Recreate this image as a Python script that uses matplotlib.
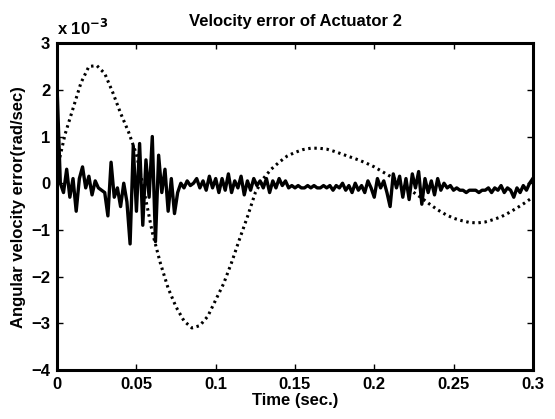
import numpy as np
import matplotlib
matplotlib.use('Agg')
import matplotlib.pyplot as plt

# velocity error, units of 1e-3 rad/sec
# solid: sampled every 0.002 s
err_solid = [
    2.0, 0.0, -0.2, 0.3, -0.3, 0.1, -0.6, 0.1, 0.35, -0.1,
    0.15, -0.25, 0.05, -0.1, -0.15, -0.2, -0.7, 0.45, -0.3, -0.1,
    -0.5, 0.0, -0.4, -1.3, 0.8, -0.6, 0.85, -0.9, 0.5, -0.3,
    1.0, -1.25, 0.6, -0.2, 0.3, -0.6, 0.1, -0.65, -0.2, 0.0,
    -0.1, 0.05, -0.05, 0.0, 0.1, -0.1, 0.05, -0.15, 0.15, -0.1,
    0.1, -0.2, 0.1, -0.15, 0.2, -0.2, 0.05, -0.1, 0.15, -0.25,
    0.05, -0.15, 0.1,
    -0.05, 0.05, -0.1, 0.1, -0.2, 0.05, -0.1, 0.1, -0.05, 0.05,
    -0.1, -0.05, -0.1, -0.05, -0.1, -0.1, -0.05, -0.1, -0.05, -0.1,
    -0.1, -0.05, -0.1, -0.05, -0.15, -0.05, -0.1, 0.0, -0.15, -0.05,
    -0.2, 0.0, -0.15, -0.05, -0.2, 0.05, -0.1, -0.3, 0.1, -0.1,
    0.05, -0.2, -0.5, 0.2, -0.1, 0.15, -0.3, 0.1, -0.35, 0.2,
    -0.1, 0.25, -0.45, 0.1, -0.2, 0.05, -0.25, 0.1, -0.15, 0.0,
    -0.1, -0.05, -0.15, -0.1, -0.15, -0.15, -0.2, -0.15, -0.15, -0.15,
    -0.2, -0.15, -0.15, -0.1, -0.2, -0.1, -0.15, -0.05, -0.2, -0.1,
    -0.15, -0.3, -0.1, -0.2, -0.05, -0.15, 0.0, 0.1,
]

# dotted: sampled every 0.005 s
err_dotted = [
    0.3, 1.05, 1.6, 2.15, 2.5, 2.52, 2.35, 1.95, 1.5, 1.1,
    0.62, -0.2, -1.05, -1.7, -2.25, -2.65, -2.95, -3.1, -3.05, -2.85,
    -2.5, -2.15, -1.7, -1.2, -0.72, -0.2, 0.1, 0.3, 0.45, 0.58,
    0.66, 0.72, 0.75, 0.75, 0.73, 0.68, 0.62, 0.56, 0.5, 0.43,
    0.35, 0.25, 0.15, 0.05, -0.08, -0.2, -0.32, -0.45, -0.57, -0.67,
    -0.75, -0.8, -0.84, -0.85, -0.83, -0.78, -0.72, -0.63, -0.53, -0.42,
    -0.3,
]

t_solid = np.linspace(0, 0.3, len(err_solid))
t_dotted = np.linspace(0, 0.3, len(err_dotted))

plt.rcParams['font.family'] = ['Liberation Sans', 'DejaVu Sans']
plt.rcParams['font.weight'] = 'bold'

fig = plt.figure(figsize=(5.55, 4.19), dpi=100)
ax = fig.add_axes([0.103, 0.117, 0.857, 0.780])

ax.plot(t_dotted, err_dotted, color='black', linestyle=(0, (0.8, 1.2)), linewidth=2.2)
ax.plot(t_solid, err_solid, color='black', linewidth=2.4)

ax.set_xlim(0, 0.3)
ax.set_ylim(-4, 3)
ax.set_xticks([0, 0.05, 0.1, 0.15, 0.2, 0.25, 0.3])
ax.set_xticklabels(['0', '0.05', '0.1', '0.15', '0.2', '0.25', '0.3'])
ax.set_yticks(range(-4, 4))
ax.tick_params(direction='in', length=4, width=1, top=True, right=True, labelsize=12, pad=5)
for s in ax.spines.values():
    s.set_linewidth(2.2)

ax.set_title('Velocity error of Actuator 2', fontsize=12, fontweight='bold', pad=12)
ax.set_xlabel('Time (sec.)', fontsize=12, fontweight='bold', labelpad=1)
ax.set_ylabel('Angular velocity error(rad/sec)', fontsize=12, fontweight='bold', labelpad=4)
ax.text(0.0, 1.015, 'x 10$^{-3}$', transform=ax.transAxes, fontsize=12, fontweight='bold', va='bottom')

fig.savefig('out.png', dpi=100)
